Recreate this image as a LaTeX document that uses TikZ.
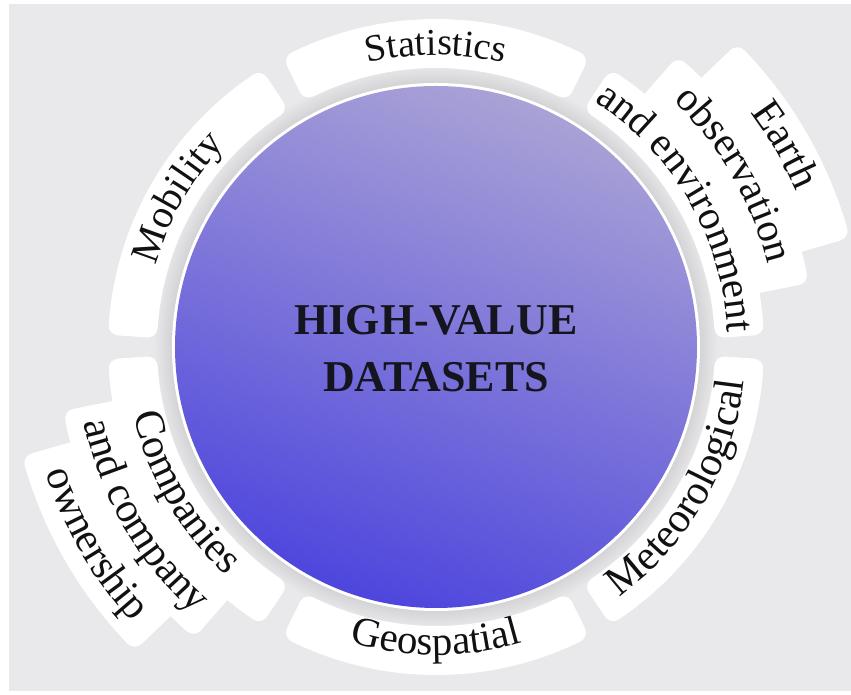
\documentclass[tikz,border=0pt]{standalone}
\usepackage{fontspec}
\setmainfont{Liberation Serif}
\usetikzlibrary{decorations.text}
\definecolor{bggray}{HTML}{E9E9EB}
\definecolor{circtop}{HTML}{A9A2D6}
\definecolor{circmid}{HTML}{8A85DE}
\definecolor{circbot}{HTML}{4E46DD}
\definecolor{inkc}{HTML}{111111}
\definecolor{titlec}{HTML}{15151F}
\tikzset{
  sectorfill/.style={fill=white, draw=white, line width=20pt, line join=round},
  shadowring/.style={fill=black, opacity=0.006},
  titletext/.style={font=\fontsize{44}{57}\selectfont\bfseries, align=center, text=titlec, inner sep=0pt},
}
% annular sector with rounded corners: start angle, end angle, inner r, outer r
\newcommand\ringpart[4]{%
  \pgfmathsetmacro\rpda{573/((#3+#4)/2)}%
  \pgfmathsetmacro\rpaA{#1+\rpda}%
  \pgfmathsetmacro\rpaB{#2-\rpda}%
  \pgfmathsetmacro\rprI{#3+10}%
  \pgfmathsetmacro\rprO{#4-10}%
  \filldraw[sectorfill] (\rpaA:\rprI) -- (\rpaA:\rprO)
     arc[start angle=\rpaA, end angle=\rpaB, radius=\rprO pt]
     -- (\rpaB:\rprI)
     arc[start angle=\rpaB, end angle=\rpaA, radius=\rprI pt] -- cycle;}
% text reading clockwise, tops outward: centre angle, baseline radius, size, text
\newcommand\toplabel[4]{%
  \path[decorate, decoration={text along path, text align=center,
     text={|\fontsize{#3}{#3}\selectfont\color{inkc}|#4}}]
     (#1+70:#2) arc[start angle=#1+70, end angle=#1-70, radius=#2pt];}
% text reading counter-clockwise, tops inward
\newcommand\botlabel[4]{%
  \path[decorate, decoration={text along path, text align=center,
     text={|\fontsize{#3}{#3}\selectfont\color{inkc}|#4}}]
     (#1-70:#2) arc[start angle=#1-70, end angle=#1+70, radius=#2pt];}
\begin{document}
\begin{tikzpicture}[x=1pt,y=1pt]
\useasboundingbox (-436,-348) rectangle (415,347);
\fill[white] (-436,-348) rectangle (415,347);
\fill[bggray] (-427,-344) rectangle (415,343);
% soft shadow round the disc
\foreach \k in {1,...,12} \fill[shadowring] (0,0) circle[radius={261pt+1.7pt*\k}];
% ring segments
\ringpart{62}{118}{279}{328}
\ringpart{122}{178}{279}{328}
\ringpart{-58}{-2}{279}{328}
\ringpart{-118}{-62}{279}{328}
% Earth observation stack
\ringpart{14.5}{45.5}{279}{428}
\ringpart{9.5}{50.5}{279}{378}
\ringpart{2}{58}{279}{328}
% Companies stack
\ringpart{194.5}{225.5}{279}{428}
\ringpart{189.5}{230.5}{279}{378}
\ringpart{182}{238}{279}{328}
% disc
\fill[white] (0,0) circle[radius=264pt];
\shade[top color=circtop, middle color=circmid, bottom color=circbot, shading angle=-20] (0,0) circle[radius=261pt];
\node[titletext] (title) at (0,-2) {HIGH-VALUE\\DATASETS};
% labels
\toplabel{90}{292}{38}{Statistics}
\toplabel{150}{292}{40}{Mobility}
\toplabel{30}{392}{42}{Earth}
\toplabel{30}{342}{41}{observation}
\toplabel{30}{292}{41}{and environment}
\botlabel{-30}{310}{42}{Meteorological}
\botlabel{-90}{308}{41}{Geospatial}
\botlabel{210}{310}{42}{Companies}
\botlabel{210}{360}{42}{and company}
\botlabel{210}{410}{42}{ownership}
\end{tikzpicture}
\end{document}
